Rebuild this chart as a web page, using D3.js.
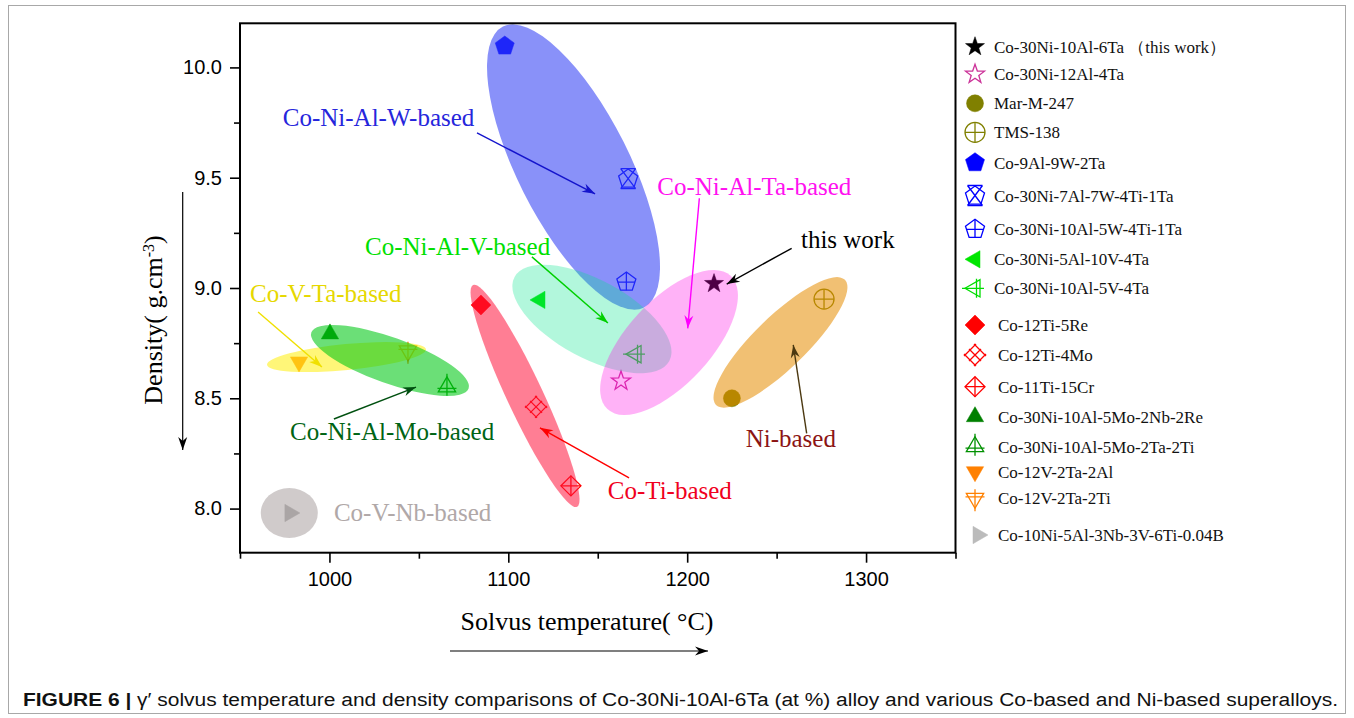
<!DOCTYPE html>
<html>
<head>
<meta charset="utf-8">
<script src="https://cdn.jsdelivr.net/npm/d3@7"></script>
<style>
body { margin: 0; background: #fff; }
svg text { font-family: "Liberation Serif", "Times New Roman", serif; }
</style>
</head>
<body>
<div id="chart"></div>
<script>
// ---- data ----
var alloys = ["Co-30Ni-10Al-6Ta \uFF08this work\uFF09", "Co-30Ni-12Al-4Ta", "Mar-M-247", "TMS-138",
    "Co-9Al-9W-2Ta", "Co-30Ni-7Al-7W-4Ti-1Ta", "Co-30Ni-10Al-5W-4Ti-1Ta", "Co-30Ni-5Al-10V-4Ta",
    "Co-30Ni-10Al-5V-4Ta", "Co-12Ti-5Re", "Co-12Ti-4Mo", "Co-11Ti-15Cr", "Co-30Ni-10Al-5Mo-2Nb-2Re",
    "Co-30Ni-10Al-5Mo-2Ta-2Ti", "Co-12V-2Ta-2Al", "Co-12V-2Ta-2Ti", "Co-10Ni-5Al-3Nb-3V-6Ti-0.04B"];
var solvus  = [1215, 1163, 1225, 1276.5, 1098, 1167, 1166, 1117.7, 1171.4, 1084.7, 1115.5, 1135, 1000.3, 1065.7, 983, 1043.9, 977.9];
var density = [9.02, 8.578, 8.50, 8.95, 10.097, 9.494, 9.027, 8.946, 8.70, 8.923, 8.461, 8.103, 8.792, 8.552, 8.665, 8.715, 7.98];

// alloy families: major-axis end points of each ellipse (temperature, density)
var groups  = ["W", "V", "Ta", "Ni", "Ti", "VTa", "Mo", "Nb"];
var groupT1 = [1097.0, 1103.5, 1224.3, 1216.1, 1080.3, 965.1, 989.9, 961.6];
var groupD1 = [10.185, 9.050, 9.055, 8.470, 9.014, 8.652, 8.799, 7.980];
var groupT2 = [1175.9, 1190.0, 1155.4, 1288.2, 1138.4, 1054.0, 1077.8, 993.5];
var groupD2 = [8.912, 8.669, 8.451, 9.037, 8.008, 8.722, 8.544, 7.980];

var xTicks = [1000, 1100, 1200, 1300];
var xMinor = [950, 1050, 1150, 1250, 1350];
var yTicks = [8.0, 8.5, 9.0, 9.5, 10.0];
var yMinor = [8.25, 8.75, 9.25, 9.75];

// ---- styles ----
var markerStyle = [
    {shape: "star", color: "#000000", fill: true},
    {shape: "star", color: "#cc3399", fill: false},
    {shape: "circle", color: "#808000", fill: true},
    {shape: "circlePlus", color: "#808000", fill: false},
    {shape: "pentagon", color: "#0000ff", fill: true},
    {shape: "pentagonX", color: "#0000ff", fill: false},
    {shape: "pentagonPlus", color: "#0000ff", fill: false},
    {shape: "triLeft", color: "#00e600", fill: true},
    {shape: "triLeftPlus", color: "#00dd00", fill: false},
    {shape: "diamond", color: "#ff0000", fill: true},
    {shape: "diamondXX", color: "#ff0000", fill: false},
    {shape: "diamondPlus", color: "#ff0000", fill: false},
    {shape: "triUp", color: "#008000", fill: true},
    {shape: "triUpPlus", color: "#009000", fill: false},
    {shape: "triDown", color: "#ff8000", fill: true},
    {shape: "triDownPlus", color: "#ff8000", fill: false},
    {shape: "triRight", color: "#bbbbbb", fill: true}
];
var groupStyle = {
    W:   {fill: "#3342f5", op: 0.58, b: 56},
    V:   {fill: "#00e68c", op: 0.30, b: 39},
    Ta:  {fill: "#ff00e6", op: 0.30, b: 42},
    Ni:  {fill: "#e68c00", op: 0.55, b: 26},
    Ti:  {fill: "#ff143c", op: 0.55, b: 18},
    VTa: {fill: "#fff01e", op: 0.60, b: 13},
    Mo:  {fill: "#00c814", op: 0.58, b: 23},
    Nb:  {fill: "#968c8c", op: 0.45, b: 25}
};
// labels and arrows, in data units
var notes = [
    {text: "Co-Ni-Al-W-based",  color: "#2626dc", arrow: "#1414cc", t: 973.9,  d: 9.734, a: [1082.5, 9.703, 1148.5, 9.427]},
    {text: "Co-Ni-Al-V-based",  color: "#00e000", arrow: "#00d000", t: 1019.9, d: 9.150, a: [1113.2, 9.141, 1155.7, 8.841]},
    {text: "Co-V-Ta-based",     color: "#e6d800", arrow: "#f0e000", t: 955.6,  d: 8.938, a: [960.1, 8.891, 995.8, 8.642]},
    {text: "Co-Ni-Al-Mo-based", color: "#006414", arrow: "#005010", t: 978,    d: 8.311, a: [1002.5, 8.406, 1048.4, 8.551]},
    {text: "Co-V-Nb-based",     color: "#b0a8a8", arrow: null,      t: 1002.5, d: 7.945},
    {text: "Co-Ni-Al-Ta-based", color: "#ff10f0", arrow: "#ff00ff", t: 1183.3, d: 9.422, a: [1206.8, 9.407, 1200.3, 8.817]},
    {text: "this work",         color: "#000000", arrow: "#000000", t: 1263.6, d: 9.181, a: [1258.4, 9.180, 1222.1, 9.018]},
    {text: "Ni-based",          color: "#8b1414", arrow: "#4b3810", t: 1232.7, d: 8.278, a: [1266.8, 8.341, 1259.3, 8.742]},
    {text: "Co-Ti-based",       color: "#f00020", arrow: "#ff0000", t: 1155.6, d: 8.042, a: [1167.5, 8.139, 1117.7, 8.366]}
];
var legendY = [46.7, 74.3, 103.3, 132.3, 162.7, 196, 229.3, 259.3, 288.3, 325, 355, 386.7, 416.7, 446.7, 471.7, 498.3, 535];

var width = 1354, height = 718;
var svg = d3.select("#chart").append("svg")
    .attr("width", width)
    .attr("height", height);

svg.append("rect")
    .attr("x", 8.5).attr("y", 5.5)
    .attr("width", 1337).attr("height", 708)
    .attr("fill", "none").attr("stroke", "#a8a8a8");

var x = d3.scaleLinear().domain([950, 1350]).range([240, 955.5]);
var y = d3.scaleLinear().domain([7.8, 10.2]).range([552.7, 23.3]);

var defs = svg.append("defs");
function arrowId(color) {
    var id = "ah" + color.replace("#", "");
    if (defs.select("#" + id).empty()) {
        defs.append("marker")
            .attr("id", id)
            .attr("markerUnits", "userSpaceOnUse")
            .attr("viewBox", "-14 -6 16 12")
            .attr("markerWidth", 16).attr("markerHeight", 12)
            .attr("refX", 0).attr("refY", 0)
            .attr("orient", "auto")
            .append("path")
            .attr("d", "M0,0L-13,-4.5L-9,0L-13,4.5Z")
            .attr("fill", color);
    }
    return "url(#" + id + ")";
}

// ---- marker glyphs ----
function poly(pts) {
    return "M" + pts.map(function(p) { return p[0].toFixed(2) + "," + p[1].toFixed(2); }).join("L") + "Z";
}
function ngon(n, r, start) {
    return d3.range(n).map(function(i) {
        var a = start + i * 2 * Math.PI / n;
        return [r * Math.cos(a), r * Math.sin(a)];
    });
}
function glyph(g, st, r) {
    var shape = st.shape, body, deco = "", rot = 0;
    var base = shape.replace("Plus", "").replace("XX", "").replace("X", "");
    if (base.indexOf("tri") == 0) {
        rot = {triUp: 0, triRight: 90, triDown: 180, triLeft: -90}[base];
        body = poly(ngon(3, r, -Math.PI / 2));
    } else if (base == "star") {
        var pts = d3.range(10).map(function(i) {
            var a = -Math.PI / 2 + i * Math.PI / 5, rr = i % 2 ? r * 0.4 : r;
            return [rr * Math.cos(a), rr * Math.sin(a)];
        });
        body = poly(pts);
    } else if (base == "circle") {
        body = "M" + r + ",0A" + r + "," + r + " 0 1 1 " + (-r) + ",0A" + r + "," + r + " 0 1 1 " + r + ",0Z";
    } else if (base == "pentagon") {
        body = poly(ngon(5, r, -Math.PI / 2));
    } else {
        body = poly(ngon(4, r, -Math.PI / 2));
    }
    if (shape == "circlePlus" || shape == "diamondPlus") {
        deco = "M" + (-r) + ",0H" + r + "M0," + (-r) + "V" + r;
    } else if (shape == "pentagonPlus") {
        deco = "M0," + (-r) + "V" + (0.81 * r) + "M" + (-0.86 * r) + ",0H" + (0.86 * r);
    } else if (shape == "pentagonX") {
        var a = 0.75 * r;
        deco = "M" + (-a) + "," + (-1.05 * r) + "L" + a + "," + (0.95 * r) +
            "M" + a + "," + (-1.05 * r) + "L" + (-a) + "," + (0.95 * r) +
            "M" + (-a) + "," + (-1.05 * r) + "H" + a +
            "M" + (-a) + "," + (0.95 * r) + "H" + a;
    } else if (shape.indexOf("Plus") > 0) {
        deco = "M0," + (-1.3 * r) + "V" + (0.9 * r) + "M" + (-0.95 * r) + "," + (0.15 * r) + "H" + (0.95 * r);
    } else if (shape == "diamondXX") {
        var e = 1.2 * r;
        [-r, 0, r].forEach(function(c) {
            deco += "M" + ((c - e) / 2) + "," + ((c + e) / 2) + "L" + ((c + e) / 2) + "," + ((c - e) / 2);
            deco += "M" + ((c - e) / 2) + "," + ((-c - e) / 2) + "L" + ((c + e) / 2) + "," + ((-c + e) / 2);
        });
        body = null;
    }
    var gg = g.append("g").attr("transform", "rotate(" + rot + ")");
    if (body) {
        gg.append("path").attr("d", body)
            .attr("fill", st.fill ? st.color : "none")
            .attr("stroke", st.color)
            .attr("stroke-width", st.fill ? 0.5 : 1.3)
            .attr("stroke-linejoin", "miter");
    }
    if (deco) {
        gg.append("path").attr("d", deco)
            .attr("fill", "none")
            .attr("stroke", st.color)
            .attr("stroke-width", 1.3);
    }
}

// ---- points (below the translucent ellipses) ----
var pts = svg.append("g");
alloys.forEach(function(name, i) {
    var g = pts.append("g").attr("transform", "translate(" + x(solvus[i]) + "," + y(density[i]) + ")");
    glyph(g, markerStyle[i], markerStyle[i].shape == "circle" ? 8.5 : 10);
});

// ---- ellipses ----
var ell = svg.append("g");
var order = ["Nb", "Ti", "Ni", "W", "V", "Ta", "VTa", "Mo"];
order.forEach(function(k) {
    var i = groups.indexOf(k), st = groupStyle[k];
    var x1 = x(groupT1[i]), y1 = y(groupD1[i]), x2 = x(groupT2[i]), y2 = y(groupD2[i]);
    var cx = (x1 + x2) / 2, cy = (y1 + y2) / 2;
    var a = Math.hypot(x2 - x1, y2 - y1) / 2;
    var ang = Math.atan2(y2 - y1, x2 - x1) * 180 / Math.PI;
    ell.append("ellipse")
        .attr("transform", "translate(" + cx + "," + cy + ") rotate(" + ang + ")")
        .attr("rx", a).attr("ry", st.b)
        .attr("fill", st.fill).attr("fill-opacity", st.op);
});

// ---- axes ----
function styleAxis(g) {
    g.select(".domain").remove();
    g.selectAll(".tick line").attr("stroke", "#000").attr("stroke-width", 1.6);
    g.selectAll(".tick text")
        .style("font-family", "'Liberation Sans', Arial, sans-serif")
        .style("font-size", "20px")
        .attr("fill", "#000");
}
svg.append("g").attr("transform", "translate(0,552.7)")
    .call(d3.axisBottom(x).tickValues(xTicks).tickFormat(d3.format("d")).tickSize(10).tickPadding(9))
    .call(styleAxis);
svg.append("g").attr("transform", "translate(0,552.7)")
    .call(d3.axisBottom(x).tickValues(xMinor).tickFormat("").tickSize(6))
    .call(styleAxis);
svg.append("g").attr("transform", "translate(240,0)")
    .call(d3.axisLeft(y).tickValues(yTicks).tickFormat(d3.format(".1f")).tickSize(10).tickPadding(8))
    .call(styleAxis);
svg.append("g").attr("transform", "translate(240,0)")
    .call(d3.axisLeft(y).tickValues(yMinor).tickFormat("").tickSize(6))
    .call(styleAxis);

svg.append("rect")
    .attr("x", x.range()[0]).attr("y", y.range()[1])
    .attr("width", x.range()[1] - x.range()[0])
    .attr("height", y.range()[0] - y.range()[1])
    .attr("fill", "none").attr("stroke", "#000").attr("stroke-width", 2);

// ---- annotations ----
var ann = svg.append("g");
notes.forEach(function(n) {
    if (n.a) {
        ann.append("line")
            .attr("x1", x(n.a[0])).attr("y1", y(n.a[1]))
            .attr("x2", x(n.a[2])).attr("y2", y(n.a[3]))
            .attr("stroke", n.arrow).attr("stroke-width", 1.4)
            .attr("marker-end", arrowId(n.arrow));
    }
    ann.append("text")
        .attr("x", x(n.t)).attr("y", y(n.d))
        .attr("fill", n.color)
        .style("font-size", "25px")
        .text(n.text);
});

// ---- axis titles ----
svg.append("text")
    .attr("x", 587).attr("y", 630)
    .attr("text-anchor", "middle")
    .style("font-size", "26px")
    .text("Solvus temperature( \u00B0C)");
svg.append("line")
    .attr("x1", 450).attr("y1", 651).attr("x2", 708).attr("y2", 651)
    .attr("stroke", "#000").attr("stroke-width", 1.2)
    .attr("marker-end", arrowId("#000000"));

var yt = svg.append("text")
    .attr("transform", "translate(162,320) rotate(-90)")
    .attr("text-anchor", "middle")
    .style("font-size", "26px");
yt.append("tspan").text("Density( g.cm");
yt.append("tspan").attr("baseline-shift", "super").style("font-size", "16px").text("-3");
yt.append("tspan").text(")");
svg.append("line")
    .attr("x1", 182.7).attr("y1", 192).attr("x2", 182.7).attr("y2", 450)
    .attr("stroke", "#000").attr("stroke-width", 1.2)
    .attr("marker-end", arrowId("#000000"));

// ---- legend ----
var leg = svg.append("g");
alloys.forEach(function(name, i) {
    var row = leg.append("g").attr("transform", "translate(0," + legendY[i] + ")");
    var g = row.append("g").attr("transform", "translate(" + (i == 16 ? 978 : 975) + ",0)");
    glyph(g, markerStyle[i], markerStyle[i].shape == "circle" ? 8.5 : 10);
    row.append("text")
        .attr("x", i < 9 ? 994 : 998)
        .attr("dy", "0.35em")
        .style("font-size", "17px")
        .attr("fill", "#111")
        .text(name);
});

// ---- caption ----
var cap = svg.append("text")
    .attr("x", 23).attr("y", 706)
    .attr("textLength", 1315)
    .attr("lengthAdjust", "spacingAndGlyphs")
    .style("font-family", "'Liberation Sans', Arial, sans-serif")
    .style("font-size", "18px")
    .attr("fill", "#111");
cap.append("tspan").style("font-weight", "bold").text("FIGURE 6 | ");
cap.append("tspan").text("\u03B3\u2032 solvus temperature and density comparisons of Co-30Ni-10Al-6Ta (at %) alloy and various Co-based and Ni-based superalloys.");
</script>
</body>
</html>
